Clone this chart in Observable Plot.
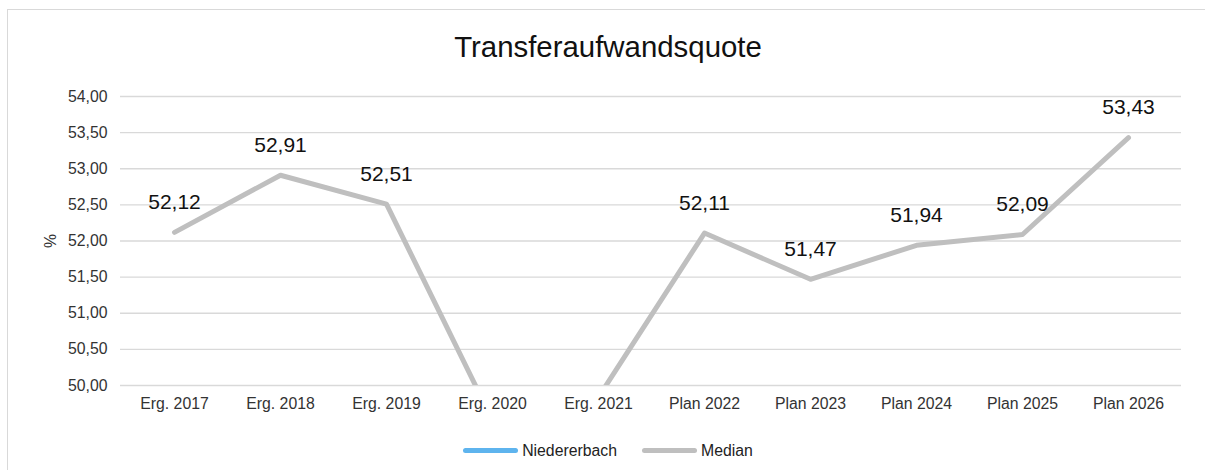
<!DOCTYPE html>
<html>
<head>
<meta charset="utf-8">
<script src="https://cdn.jsdelivr.net/npm/d3@7"></script>
<script src="https://cdn.jsdelivr.net/npm/@observablehq/plot@0.6"></script>
<style>
  html, body { margin: 0; padding: 0; background: #fff; overflow: hidden; width: 1205px; height: 470px; }
  body { position: relative; font-family: "Liberation Sans", Arial, sans-serif; }
  #frame { position: absolute; left: 7px; top: 9px; width: 1210px; height: 520px; border: 1px solid #d9d9d9; box-sizing: border-box; pointer-events: none; }
  #title { position: relative; width: 1216px; height: 80px; box-sizing: border-box; padding-top: 32px; line-height: 29px; font-size: 29.4px; text-align: center; color: #111; }
  #chart { position: relative; height: 340px; }
  #chart svg { display: block; }
  #legend { position: relative; width: 1216px; height: 50px; box-sizing: border-box; padding-top: 11px; line-height: 16px; font-size: 15.8px; color: #222; display: flex; justify-content: center; align-items: center; }
  .item { display: flex; align-items: center; }
  .sw { display: inline-block; width: 55px; height: 5px; border-radius: 3px; margin-right: 4px; }
  .item + .item { margin-left: 25px; }
</style>
</head>
<body>
<div id="frame"></div>
<div id="title">Transferaufwandsquote</div>
<div id="chart"></div>
<div id="legend"></div>
<script>
const categories = ["Erg. 2017", "Erg. 2018", "Erg. 2019", "Erg. 2020", "Erg. 2021", "Plan 2022", "Plan 2023", "Plan 2024", "Plan 2025", "Plan 2026"];
const niedererbach = [null, null, null, null, null, null, null, null, null, null];
const median = [52.12, 52.91, 52.51, 49.52, 49.84, 52.11, 51.47, 51.94, 52.09, 53.43];
const yTicks = [50, 50.5, 51, 51.5, 52, 52.5, 53, 53.5, 54];
const seriesNames = ["Niedererbach", "Median"];
const seriesColors = ["#5eb4ee", "#bfbfbf"];

const fmt = d => d.toFixed(2).replace(".", ",");
const medianRows = categories.map((c, i) => ({cat: c, value: median[i]}));
const niederRows = categories.map((c, i) => ({cat: c, value: niedererbach[i]})).filter(d => d.value != null);

const chart = Plot.plot({
  width: 1205,
  height: 340,
  marginLeft: 120,
  marginRight: 24,
  marginTop: 16,
  marginBottom: 35,
  style: {fontFamily: "'Liberation Sans', Arial, sans-serif", fontSize: "15.8px", color: "#333", background: "transparent"},
  x: {type: "point", domain: categories, padding: 0.5, label: null},
  y: {domain: [50, 54], label: null},
  marks: [
    Plot.ruleY(yTicks, {stroke: "#d9d9d9", strokeWidth: 1.4}),
    Plot.axisY({ticks: yTicks, tickFormat: fmt, tickSize: 0, tickPadding: 13, label: "%", labelAnchor: "center", labelArrow: "none", labelOffset: 76, fill: "#333"}),
    Plot.axisX({tickSize: 0, tickPadding: 12, label: null, fill: "#333"}),
    Plot.line(niederRows, {x: "cat", y: "value", stroke: seriesColors[0], strokeWidth: 5, strokeLinecap: "round", strokeLinejoin: "round", clip: true}),
    Plot.line(medianRows, {x: "cat", y: "value", stroke: seriesColors[1], strokeWidth: 5, strokeLinecap: "round", strokeLinejoin: "round", clip: true}),
    Plot.text(medianRows.filter(d => d.value >= 50 && d.value <= 54), {x: "cat", y: "value", text: d => fmt(d.value), dy: -30, fontSize: 21, fill: "#111"})
  ]
});
document.getElementById("chart").appendChild(chart);

const legend = document.getElementById("legend");
seriesNames.forEach((name, i) => {
  const item = document.createElement("div");
  item.className = "item";
  const sw = document.createElement("span");
  sw.className = "sw";
  sw.style.background = seriesColors[i];
  const label = document.createElement("span");
  label.textContent = name;
  item.appendChild(sw);
  item.appendChild(label);
  legend.appendChild(item);
});
</script>
</body>
</html>
